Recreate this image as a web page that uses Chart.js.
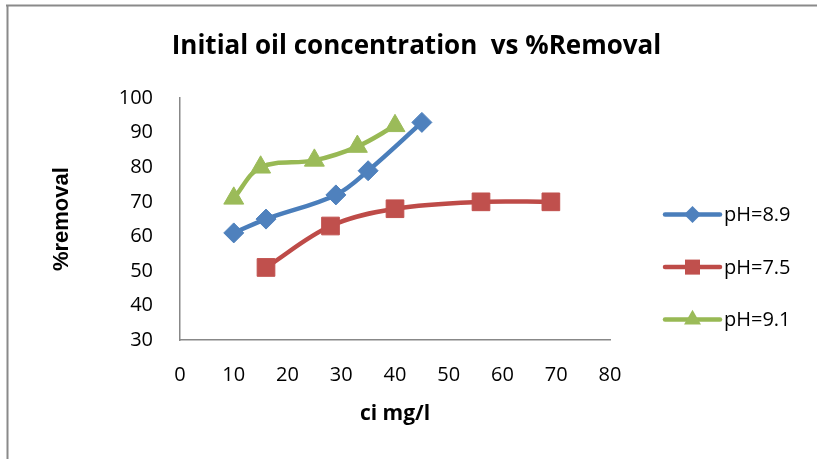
<!DOCTYPE html>
<html>
<head>
<meta charset="utf-8">
<script src="https://cdn.jsdelivr.net/npm/chart.js@4"></script>
<style>
  html, body { margin: 0; padding: 0; background: #fff; }
  #wrap { position: relative; width: 817px; height: 459px; }
  canvas { display: block; }
</style>
</head>
<body>
<div id="wrap"><canvas id="c" width="817" height="459"></canvas></div>
<script>
// ---- data ----
const chartTitle = 'Initial oil concentration  vs %Removal';
const xAxisTitle = 'ci mg/l';
const yAxisTitle = '%removal';
const seriesNames = ['pH=8.9', 'pH=7.5', 'pH=9.1'];

const xPH89 = [10, 16, 29, 35, 45];
const yPH89 = [61, 65, 72, 79, 93];

const xPH75 = [16, 28, 40, 56, 69];
const yPH75 = [51, 63, 68, 70, 70];

const xPH91 = [10, 15, 25, 33, 40];
const yPH91 = [71, 80, 82, 86, 92];

const xTicks = [0, 10, 20, 30, 40, 50, 60, 70, 80];
const yTicks = [30, 40, 50, 60, 70, 80, 90, 100];

const toPoints = (xs, ys) => xs.map((x, i) => ({ x: x, y: ys[i] }));

const styles = [
  { line: '#4A7EBB', fill: '#4F81BD', shape: 'rectRot', r: 10 },
  { line: '#BE4B48', fill: '#C0504D', shape: 'rect', r: 12.5 },
  { line: '#98B954', fill: '#9BBB59', shape: 'triangle', r: 11.5 }
];
const series = [toPoints(xPH89, yPH89), toPoints(xPH75, yPH75), toPoints(xPH91, yPH91)];

const datasets = series.map((pts, i) => ({
  label: seriesNames[i],
  data: pts,
  borderColor: styles[i].line,
  backgroundColor: styles[i].fill,
  pointBackgroundColor: styles[i].fill,
  pointBorderColor: styles[i].fill,
  pointBorderWidth: 1,
  pointStyle: styles[i].shape,
  pointRadius: styles[i].r,
  pointHoverRadius: styles[i].r,
  borderWidth: 4.5,
  tension: 0.35,
  fill: false,
  showLine: true
}));

const calibri = "'Open Sans', Lato, sans-serif";

function drawMarker(ctx, shape, x, y, r) {
  ctx.beginPath();
  if (shape === 'rect') {
    const s = r * Math.SQRT1_2;
    ctx.rect(x - s, y - s, 2 * s, 2 * s);
  } else if (shape === 'rectRot') {
    ctx.moveTo(x, y - r); ctx.lineTo(x + r, y); ctx.lineTo(x, y + r); ctx.lineTo(x - r, y);
    ctx.closePath();
  } else {
    const a = -Math.PI / 2;
    for (let k = 0; k < 3; k++) {
      const t = a + k * 2 * Math.PI / 3;
      const px = x + Math.cos(t) * r, py = y + Math.sin(t) * r;
      if (k === 0) ctx.moveTo(px, py); else ctx.lineTo(px, py);
    }
    ctx.closePath();
  }
  ctx.fill();
}

const framePlugin = {
  id: 'frame',
  beforeDraw(chart) {
    const ctx = chart.ctx;
    ctx.save();
    ctx.fillStyle = '#fff';
    ctx.fillRect(0, 0, chart.width, chart.height);
    ctx.strokeStyle = '#8a8a8a';
    ctx.lineWidth = 2;
    ctx.beginPath();
    ctx.moveTo(6, 5.5); ctx.lineTo(chart.width, 5.5);
    ctx.moveTo(7.5, 5); ctx.lineTo(7.5, chart.height);
    ctx.stroke();
    ctx.restore();
  }
};

const legendPlugin = {
  id: 'sideLegend',
  afterDraw(chart) {
    const ctx = chart.ctx;
    const area = chart.chartArea;
    const x0 = area.right + 55, lineLen = 55, gap = 52.5;
    const yMid = (area.top + area.bottom) / 2 + 48;
    ctx.save();
    chart.data.datasets.forEach((ds, i) => {
      const y = yMid + (i - 1) * gap;
      ctx.strokeStyle = ds.borderColor;
      ctx.lineWidth = 4.5;
      ctx.lineCap = 'round';
      ctx.beginPath();
      ctx.moveTo(x0, y); ctx.lineTo(x0 + lineLen, y);
      ctx.stroke();
      ctx.fillStyle = ds.pointBackgroundColor;
      drawMarker(ctx, ds.pointStyle, x0 + lineLen / 2, y, ds.pointRadius * 0.85);
      ctx.fillStyle = '#000';
      ctx.font = '20px ' + calibri;
      ctx.textBaseline = 'middle';
      ctx.textAlign = 'left';
      ctx.fillText(ds.label, x0 + lineLen + 4, y + 1);
    });
    ctx.restore();
  }
};

new Chart(document.getElementById('c'), {
  type: 'scatter',
  data: { datasets: datasets },
  plugins: [framePlugin, legendPlugin],
  options: {
    responsive: false,
    animation: false,
    events: [],
    layout: { padding: { left: 16, right: 0, top: 0, bottom: 0 } },
    plugins: {
      legend: { display: false },
      tooltip: { enabled: false },
      title: {
        display: true,
        text: chartTitle,
        color: '#000',
        font: { family: calibri, size: 26, weight: 'bold', lineHeight: 1.2 },
        padding: { top: 31, bottom: 36 }
      }
    },
    scales: {
      x: {
        type: 'linear',
        min: 0, max: 80,
        afterBuildTicks(scale) { scale.ticks = xTicks.map(v => ({ value: v })); },
        afterFit(scale) { scale.height = 119; },
        ticks: { color: '#000', font: { family: calibri, size: 20 }, padding: 23, maxRotation: 0 },
        grid: { color: 'rgba(0,0,0,0)', drawTicks: false },
        border: { display: true, color: '#888', width: 1.5 },
        title: {
          display: true, text: xAxisTitle, color: '#000',
          font: { family: calibri, size: 21, weight: 'bold', lineHeight: 1.2 },
          padding: { top: 0, bottom: 32 }
        }
      },
      y: {
        type: 'linear',
        min: 30, max: 100,
        afterBuildTicks(scale) { scale.ticks = yTicks.map(v => ({ value: v })); },
        afterFit(scale) { scale.width = 164; },
        ticks: { color: '#000', font: { family: calibri, size: 20 }, padding: 27 },
        grid: { color: 'rgba(0,0,0,0)', drawTicks: false },
        border: { display: true, color: '#888', width: 1.5 },
        title: {
          display: true, text: yAxisTitle, color: '#000',
          font: { family: "'Liberation Sans', Arial, sans-serif", size: 22, weight: 'bold', lineHeight: 1.2 },
          padding: { top: 33, bottom: 0 }
        }
      },
      legendSpace: {
        type: 'linear',
        position: 'right',
        display: true,
        afterFit(scale) { scale.width = 207; },
        ticks: { display: false },
        grid: { display: false, drawTicks: false },
        border: { display: false },
        title: { display: false }
      }
    }
  }
});
</script>
</body>
</html>
